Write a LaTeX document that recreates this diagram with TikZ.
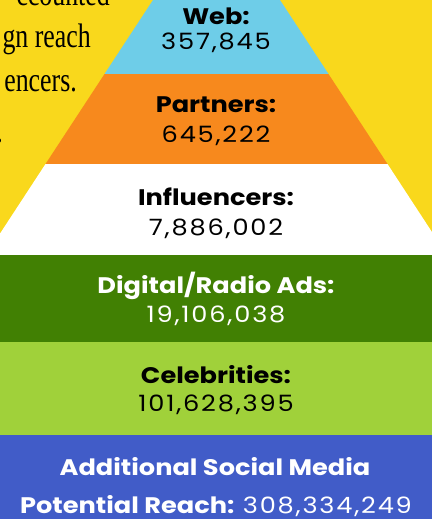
\documentclass[tikz,border=0pt]{standalone}
\usepackage{fontspec}
\usepackage{tikz}
\usepackage{color}
\newfontfamily\popfont[FakeStretch=1.14]{Poppins}
\newfontfamily\popnum[FakeStretch=1.14, LetterSpace=8]{Poppins}
\newfontfamily\bodyfont[FakeStretch=0.76]{Liberation Serif}
\definecolor{bgyel}{RGB}{249, 216, 28}
\definecolor{web}{RGB}{110, 205, 232}
\definecolor{prt}{RGB}{247, 137, 29}
\definecolor{ads}{RGB}{65, 128, 3}
\definecolor{celeb}{RGB}{160, 209, 58}
\definecolor{social}{RGB}{65, 92, 200}
\tikzset{
  tier/.style={font=\popfont\bfseries\fontsize{22.5}{27}\selectfont, anchor=base, inner sep=0pt},
  count/.style={font=\popnum\fontsize{22.5}{27}\selectfont, anchor=base, inner sep=0pt},
  body/.style={font=\bodyfont\fontsize{34}{44}\selectfont, anchor=base east, inner sep=0pt}
}

\begin{document}
\begin{tikzpicture}[x=1pt,y=-1pt]
\useasboundingbox (0,0) rectangle (432,519);
\clip (0,0) rectangle (432,519);
\path [fill=bgyel] (0,0) rectangle (432,255);

% text behind the pyramid
\node (t1) at (110,6) [body] {ccounted};
\node (t2) at (91,48) [body] {gn reach};
\node (t3) at (77,92) [body] {encers.};
\node (t4) at (3,142) [body] {.};

% pyramid
\path [fill=web] (153,0) -- (280,0) -- (328.5,74) -- (104.5,74) -- cycle;
\path [fill=prt] (104.5,74) -- (328.5,74) -- (387.5,164) -- (45.5,164) -- cycle;
\path [fill=white] (45.5,164) -- (387.5,164) -- (447,255) -- (-14,255) -- cycle;
\path [fill=ads] (0,255) rectangle (432,342);
\path [fill=celeb] (0,342) rectangle (432,435);
\path [fill=social] (0,435) rectangle (432,519);

\node (webl) at (216,25) [tier] {Web:};
\node (webn) at (216,49) [count] {357,845};
\node (prtl) at (216,112) [tier] {Partners:};
\node (prtn) at (216,142) [count] {645,222};
\node (infl) at (216,205) [tier] {Influencers:};
\node (infn) at (216,235) [count] {7,886,002};
\node (adsl) at (216,293) [tier, white] {Digital/Radio Ads:};
\node (adsn) at (216,322) [count, white] {19,106,038};
\node (cell) at (216,383) [tier] {Celebrities:};
\node (celn) at (216,411) [count] {101,628,395};
\node (socl) at (215,475) [tier, white] {Additional Social Media};
\node (socn) at (216,513) [count, white] {{\popfont\bfseries Potential Reach:}\hspace{-3pt} 308,334,249};
\end{tikzpicture}
\end{document}
